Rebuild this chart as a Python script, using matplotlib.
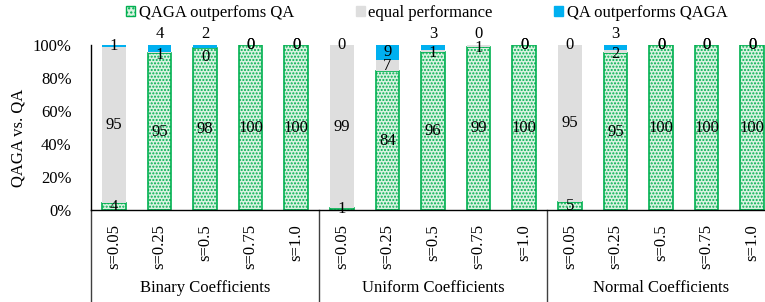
import matplotlib
matplotlib.use("Agg")
import matplotlib.pyplot as plt
from matplotlib.patches import Patch
import matplotlib.transforms as mtransforms
import numpy as np

plt.rcParams['font.family'] = ['Liberation Serif', 'DejaVu Serif']
plt.rcParams['hatch.linewidth'] = 1.0

groups = ["Binary Coefficients", "Uniform Coefficients", "Normal Coefficients"]
s_labels = ["s=0.05", "s=0.25", "s=0.5", "s=0.75", "s=1.0"]
qaga_better = [4, 95, 98, 100, 100, 1, 84, 96, 99, 100, 5, 95, 100, 100, 100]
equal_perf = [95, 1, 0, 0, 0, 99, 7, 1, 1, 0, 95, 2, 0, 0, 0]
qa_better = [1, 4, 2, 0, 0, 0, 9, 3, 0, 0, 0, 3, 0, 0, 0]
series_names = ["QAGA outperfoms QA", "equal performance", "QA outperforms QAGA"]

GREEN = '#00B050'
GREEN_FILL = '#d9f2e1'
GRAY = '#DEDEDE'
BLUE = '#00B0F0'

fig = plt.figure(figsize=(7.65, 3.02), dpi=100)
ax = fig.add_axes([91/765, 92/302, 684/765, 165/302])

n = len(qaga_better)
x = np.arange(n)
w = 0.52
g = np.array(qaga_better, float)
e = np.array(equal_perf, float)
b = np.array(qa_better, float)

ax.bar(x, g, w, facecolor=GREEN_FILL, edgecolor=GREEN, hatch='.....', linewidth=1.2)
ax.bar(x, e, w, bottom=g, color=GRAY, linewidth=0)
ax.bar(x, b, w, bottom=g + e, color=BLUE, linewidth=0)

fs = 12
for i in range(n):
    gc = g[i] / 2
    ec = g[i] + e[i] / 2
    bc = g[i] + e[i] + b[i] / 2
    if (e[i] > 0 or b[i] > 0) and e[i] < 5 and b[i] < 5:
        ey = ec - 1.5 if e[i] > 0 else ec - 5
        by = 100 + 6.5
    else:
        ey, by = ec, bc
    ax.text(x[i], gc, f"{int(g[i])}", ha='center', va='center', fontsize=fs)
    ax.text(x[i], ey, f"{int(e[i])}", ha='center', va='center', fontsize=fs)
    ax.text(x[i], by, f"{int(b[i])}", ha='center', va='center', fontsize=fs, clip_on=False)

ax.set_xlim(-0.5, n - 0.5)
ax.set_ylim(0, 100)
ax.set_yticks(np.arange(0, 101, 20))
ax.set_yticklabels([f"{v}%" for v in range(0, 101, 20)], fontsize=fs)
ax.set_xticks(x)
ax.set_xticklabels(s_labels * 3, rotation=90, fontsize=fs)
ax.tick_params(axis='x', length=0, pad=10)
ax.tick_params(axis='y', length=0, pad=14)
for sp in ['top', 'right']:
    ax.spines[sp].set_visible(False)
ax.spines['left'].set_color('black')
ax.spines['bottom'].set_color('black')
ax.spines['left'].set_linewidth(1.0)
ax.spines['bottom'].set_linewidth(1.0)

trans = mtransforms.blended_transform_factory(ax.transData, ax.transAxes)
for sep in [-0.5, 4.5, 9.5]:
    ax.plot([sep, sep], [0, -0.56], transform=trans, color='#404040', lw=1.0, clip_on=False)
for k, name in enumerate(groups):
    ax.text(5 * k + 2, -0.47, name, transform=trans, ha='center', va='center', fontsize=fs)

ax.set_ylabel("QAGA vs. QA", fontsize=fs)
ax.yaxis.set_label_coords(-0.0936, 0.436)

handles = [Patch(facecolor=GREEN_FILL, edgecolor=GREEN, hatch='....', linewidth=1.0),
           Patch(facecolor=GRAY, edgecolor=GRAY),
           Patch(facecolor=BLUE, edgecolor=BLUE)]
fig.legend(handles, series_names, loc='center', bbox_to_anchor=(0.558, 0.958), ncol=3,
           frameon=False, fontsize=fs, handlelength=0.55, handleheight=0.6,
           handletextpad=0.2, columnspacing=3.7, borderaxespad=0, borderpad=0)

fig.savefig("out.png", dpi=100)
